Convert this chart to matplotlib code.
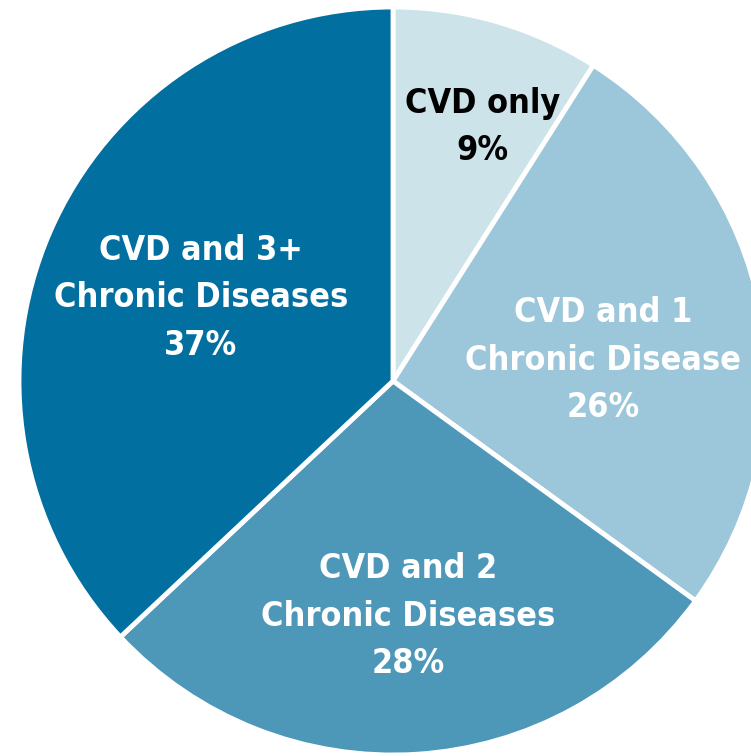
import matplotlib
matplotlib.use("Agg")
import matplotlib.pyplot as plt
import numpy as np

# Share of CVD patients by number of additional chronic diseases
categories = ["CVD only", "CVD and 1\nChronic Disease", "CVD and 2\nChronic Diseases",
              "CVD and 3+\nChronic Diseases"]
shares = [9, 26, 28, 37]
colors = ["#cce3ea", "#9cc6d9", "#4d97b9", "#016f9f"]
text_colors = ["black", "white", "white", "white"]
# label placement: fraction of radius and angular nudge (degrees) from wedge middle
label_radius = [0.72, 0.565, 0.63, 0.56]
label_shift = [-3.3, -5.1, 0.0, 0.0]

W, H = 751, 756
fig = plt.figure(figsize=(W / 100, H / 100), dpi=100)
ax = fig.add_axes([0, 0, 1, 1])

cx, cy, R = 393, 375, 374
wedges, _ = ax.pie(shares, colors=colors, startangle=90, counterclock=False,
                   radius=R, center=(cx, cy),
                   wedgeprops=dict(edgecolor="white", linewidth=3.5))

for w, cat, val, tc, rf, sh in zip(wedges, categories, shares, text_colors,
                                   label_radius, label_shift):
    mid = np.deg2rad((w.theta1 + w.theta2) / 2 + sh)
    x = cx + rf * R * np.cos(mid)
    y = cy + rf * R * np.sin(mid)
    ax.text(x, y, f"{cat}\n{val}%", ha="center", va="center", color=tc,
            fontsize=24.5, fontweight="bold", fontstretch="condensed",
            linespacing=1.55, family="DejaVu Sans")

ax.set_xlim(0, W)
ax.set_ylim(0, H)
ax.set_aspect("equal", adjustable="box")
ax.axis("off")
fig.savefig("out.png", dpi=100)
